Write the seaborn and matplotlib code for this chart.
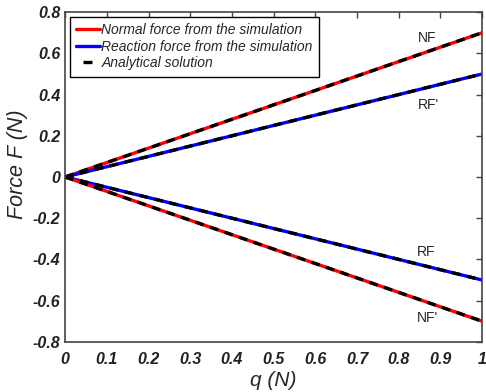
import matplotlib
matplotlib.use("Agg")
import matplotlib.pyplot as plt
import seaborn as sns
import pandas as pd
from matplotlib.lines import Line2D

sns.set_style("white")
plt.rcParams['font.family'] = ['Liberation Sans', 'DejaVu Sans']

q = [0.0, 0.1, 0.2, 0.3, 0.4, 0.5, 0.6, 0.7, 0.8, 0.9, 1.0]
nf = [0.0, 0.07, 0.14, 0.21, 0.28, 0.35, 0.42, 0.49, 0.56, 0.63, 0.70]
rf_p = [0.0, 0.05, 0.10, 0.15, 0.20, 0.25, 0.30, 0.35, 0.40, 0.45, 0.50]
rf = [0.0, -0.05, -0.10, -0.15, -0.20, -0.25, -0.30, -0.35, -0.40, -0.45, -0.50]
nf_p = [0.0, -0.07, -0.14, -0.21, -0.28, -0.35, -0.42, -0.49, -0.56, -0.63, -0.70]
xticks = [0, 0.1, 0.2, 0.3, 0.4, 0.5, 0.6, 0.7, 0.8, 0.9, 1]
xticklabels = ['0', '0.1', '0.2', '0.3', '0.4', '0.5', '0.6', '0.7', '0.8', '0.9', '1']
yticks = [-0.8, -0.6, -0.4, -0.2, 0, 0.2, 0.4, 0.6, 0.8]
yticklabels = ['-0.8', '-0.6', '-0.4', '-0.2', '0', '0.2', '0.4', '0.6', '0.8']

fig = plt.figure(figsize=(4.86, 3.92), dpi=100)
ax = fig.add_axes([0.134, 0.128, 0.858, 0.841])

series = [(nf, 'red'), (rf_p, 'blue'), (rf, 'blue'), (nf_p, 'red')]
for vals, col in series:
    df = pd.DataFrame({'q': q, 'F': vals})
    sns.lineplot(data=df, x='q', y='F', ax=ax, color=col, lw=2.4, solid_capstyle='butt')
    sns.lineplot(data=df, x='q', y='F', ax=ax, color='black', lw=2.4,
                 linestyle=(0, (2.6, 2.0)), dash_capstyle='butt')

ax.set_xlim(0, 1)
ax.set_ylim(-0.8, 0.8)
ax.set_xticks(xticks)
ax.set_xticklabels(xticklabels, fontsize=11.5, fontweight='bold', fontstyle='italic', color='#222222')
ax.set_yticks(yticks)
ax.set_yticklabels(yticklabels, fontsize=11.5, fontweight='bold', fontstyle='italic', color='#222222')
ax.tick_params(direction='in', length=4, width=1, top=True, right=True, color='#444444')
ax.tick_params(axis='y', pad=3.5)
ax.tick_params(axis='x', pad=7)
for s in ax.spines.values():
    s.set_color('#444444')
    s.set_linewidth(1.2)
ax.set_xlabel('q (N)', fontsize=15, fontstyle='italic', labelpad=3)
ax.set_ylabel('Force F (N)', fontsize=15.5, fontstyle='italic')
ax.yaxis.set_label_coords(-0.09, 0.54)

ax.text(0.847, 0.674, 'NF', fontsize=10, ha='left', va='center')
ax.text(0.847, 0.349, "RF'", fontsize=10, ha='left', va='center')
ax.text(0.844, -0.364, 'RF', fontsize=10, ha='left', va='center')
ax.text(0.844, -0.684, "NF'", fontsize=10, ha='left', va='center')

handles = [Line2D([], [], color='red', lw=2.4),
           Line2D([], [], color='blue', lw=2.4),
           Line2D([], [], color='black', lw=2.4, linestyle=(20.6, (2.7, 20)))]
labels = ['Normal force from the simulation', 'Reaction force from the simulation', 'Analytical solution']
leg = ax.legend(handles, labels, loc='upper left', bbox_to_anchor=(0.012, 0.985),
                prop={'style': 'italic', 'size': 10}, handlelength=1.7,
                handletextpad=0.1, borderpad=0.45, labelspacing=0.18, fancybox=False,
                framealpha=1, edgecolor='black', borderaxespad=0)
leg.get_frame().set_linewidth(1.0)

fig.savefig('out.png', dpi=100)
